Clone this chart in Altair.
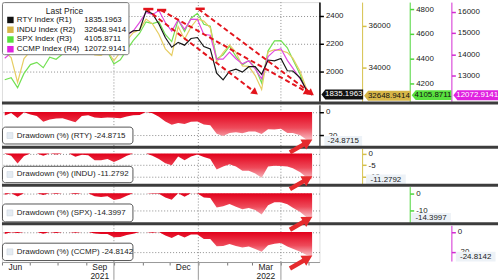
import altair as alt
import pandas as pd

# ---------------- data ----------------
dates = [
    "2021-06-04", "2021-06-11", "2021-06-18", "2021-06-25",
    "2021-07-02", "2021-07-09", "2021-07-16", "2021-07-23", "2021-07-30",
    "2021-08-06", "2021-08-13", "2021-08-20", "2021-08-27",
    "2021-09-03", "2021-09-10", "2021-09-17", "2021-09-24",
    "2021-10-01", "2021-10-08", "2021-10-15", "2021-10-22", "2021-10-29",
    "2021-11-05", "2021-11-12", "2021-11-19", "2021-11-26",
    "2021-12-03", "2021-12-10", "2021-12-17", "2021-12-24", "2021-12-31",
    "2022-01-07", "2022-01-14", "2022-01-21", "2022-01-28",
    "2022-02-04", "2022-02-11", "2022-02-18", "2022-02-25",
    "2022-03-04", "2022-03-11", "2022-03-18", "2022-03-25",
    "2022-04-01", "2022-04-08", "2022-04-14", "2022-04-22", "2022-04-29",
    "2022-05-05",
]
rty = [2286, 2338, 2240, 2361, 2311, 2279, 2163, 2209, 2226, 2236, 2192, 2149, 2277,
       2292, 2250, 2237, 2248, 2241, 2233, 2265, 2293, 2297, 2437, 2416, 2343, 2245,
       2175, 2210, 2190, 2238, 2245, 2180, 2163, 1988, 1940, 2003, 2017, 1996, 2035,
       2035, 1980, 2083, 2077, 2094, 2006, 2004, 1954, 1864, 1835.1963]
indu = [34756, 34480, 33290, 34433, 34786, 34870, 34687, 35061, 34935, 35209, 35515,
        35120, 35455, 35369, 34608, 34584, 34798, 34326, 34746, 35295, 35677, 35820,
        36328, 36100, 35602, 34899, 34580, 35971, 35365, 35950, 36338, 36231, 35912,
        34265, 34725, 35089, 34738, 34079, 34059, 33615, 32944, 34755, 34861, 34818,
        34721, 34451, 33811, 32977, 32648.9414]
spx = [4230, 4247, 4166, 4281, 4352, 4370, 4327, 4412, 4395, 4437, 4468, 4442, 4509,
       4535, 4459, 4433, 4455, 4357, 4391, 4471, 4545, 4605, 4697, 4682, 4698, 4595,
       4538, 4712, 4620, 4726, 4766, 4677, 4662, 4398, 4432, 4500, 4419, 4349, 4385,
       4329, 4204, 4463, 4543, 4546, 4488, 4393, 4272, 4132, 4105.8711]
ccmp = [13814, 14069, 14030, 14360, 14639, 14701, 14428, 14837, 14673, 14835, 14823,
        14715, 15129, 15364, 15115, 15044, 15048, 14567, 14580, 14897, 15090, 15498,
        15971, 15861, 16057, 15492, 15085, 15630, 15170, 15653, 15645, 14936, 14894,
        13768, 13771, 14098, 13791, 13548, 13694, 13313, 12844, 13894, 14169, 14261,
        13711, 13351, 12839, 12335, 12072.9141]
dd_rty = [-3.1, -0.9, -5.1, -0.3, -2.1, -3.4, -8.4, -6.4, -5.7, -5.3, -7.1, -8.9, -3.5,
          -2.9, -4.7, -5.2, -4.7, -5.0, -5.4, -4.0, -2.8, -2.7, 0.0, -1.1, -4.1, -8.1,
          -11.0, -9.5, -10.3, -8.4, -8.1, -10.7, -11.4, -18.6, -20.6, -18.0, -17.4,
          -18.3, -16.7, -16.7, -18.9, -14.7, -15.0, -14.3, -17.9, -18.0, -20.0, -23.7,
          -24.8715]
dd_indu = [-0.1, -0.9, -4.3, -1.0, 0.0, 0.0, -0.9, 0.0, -0.4, 0.0, 0.0, -1.4, -0.5,
           -0.7, -2.9, -2.9, -2.3, -3.6, -2.5, -0.9, 0.0, 0.0, 0.0, -0.9, -2.3, -4.2,
           -5.1, -1.3, -2.9, -1.3, -0.4, -1.5, -2.4, -6.9, -5.6, -4.6, -5.6, -7.4, -7.4,
           -8.7, -10.5, -5.6, -5.3, -5.4, -5.6, -6.4, -8.1, -10.4, -11.2792]
dd_spx = [-0.8, 0.0, -1.9, 0.0, 0.0, 0.0, -1.0, 0.0, -0.4, 0.0, 0.0, -0.6, 0.0, 0.0,
          -1.7, -2.2, -1.8, -3.9, -3.2, -1.4, 0.0, 0.0, 0.0, -0.3, -0.3, -2.5, -3.7, 0.0,
          -2.0, 0.0, -0.2, -2.5, -2.8, -8.3, -7.6, -6.2, -7.9, -9.3, -8.6, -9.7, -12.4,
          -7.0, -5.3, -5.2, -6.4, -8.4, -10.9, -13.9, -14.3997]
dd_ccmp = [-2.0, -0.2, -1.0, 0.0, 0.0, 0.0, -1.9, 0.0, -1.1, 0.0, -0.1, -0.8, 0.0, 0.0,
           -1.6, -2.1, -2.1, -5.2, -5.1, -3.0, -1.8, 0.0, 0.0, -0.7, 0.0, -3.5, -6.1,
           -2.7, -5.5, -2.5, -2.6, -7.0, -7.2, -14.3, -14.2, -12.2, -14.1, -15.6, -14.7,
           -17.1, -20.0, -13.5, -11.8, -11.2, -14.6, -16.9, -20.0, -23.2, -24.8142]

index_names = ["RTY Index", "INDU Index", "SPX Index", "CCMP Index"]
axis_refs = ["(R1)", "(R2)", "(R3)", "(R4)"]
last_price_labels = ["1835.1963", "32648.9414", "4105.8711", "12072.9141"]
dd_tickers = ["RTY", "INDU", "SPX", "CCMP"]
dd_last_labels = ["-24.8715", "-11.2792", "-14.3997", "-24.8142"]
quarter_starts = ["2021-10-01", "2022-01-01", "2022-04-01"]

# red dashed trend lines (in RTY units)
trend_start = ["2021-11-05", "2021-11-21", "2022-01-01"]
trend_end = ["2022-03-04", "2022-04-30", "2022-05-04"]
trend_v0 = [2450, 2443, 2450]
trend_v1 = [1850, 1850, 1843]
trend_angle = [37, 29, 37]
cap_start = ["2021-11-02", "2021-11-17", "2021-12-29"]
cap_end = ["2021-11-13", "2021-11-27", "2022-01-08"]
cap_v = [2450, 2443, 2452]
# big red arrows in drawdown panels
arrow_date = "2022-04-23"
arrow_dd = [-29.0, -12.6, -17.5, -30.3]

# ---------------- style / layout ----------------
FONT = "Liberation Sans"
FS = 8
W, H = 320, 262
XSCALE = alt.Scale(domain=[alt.DateTime(year=2021, month=6, date=1),
                           alt.DateTime(year=2022, month=5, date=13)], nice=False)
month_ticks = [alt.DateTime(year=2021, month=m, date=1) for m in range(6, 13)] + \
              [alt.DateTime(year=2022, month=m, date=1) for m in range(1, 6)]
XAX = alt.Axis(values=month_ticks, title=None, grid=False, tickSize=3, tickColor="#777",
               domainColor="#999", labelFont=FONT, labelFontSize=8.5, labelColor="#222",
               labelPadding=-2, labelOffset=13, labelFlush=False, labelOverlap=False,
               labelLineHeight=9,
               labelExpr="month(datum.value)==5 ? 'Jun' : month(datum.value)==8 ? ['Sep','2021'] : "
                         "month(datum.value)==11 ? 'Dec' : month(datum.value)==2 ? ['Mar','2022'] : ''")


def X(field):
    return alt.X(f"{field}:T", scale=XSCALE, axis=XAX)


def ysc(dom, rng):
    return alt.Scale(domain=dom, range=rng, nice=False, zero=False)


def yax(color, offset, values, grid=False, dw=1):
    return alt.Axis(orient="right", offset=offset, values=values, domainColor=color,
                    domainWidth=dw, tickColor=color, tickSize=4, tickWidth=1.5,
                    labelFont=FONT, labelFontSize=FS, labelColor="#222", labelPadding=2,
                    labelFlush=False, labelOverlap=False, labelExpr="'' + datum.value",
                    grid=grid, gridColor="#8c8c8c", gridDash=[1, 2], title=None)


def tag_path(w, h=10, tip=4):
    hy = h / w
    t = 2 * tip / w
    if tip == 0:
        return f"M-1,{-hy:.3f}L1,{-hy:.3f}L1,{hy:.3f}L-1,{hy:.3f}Z"
    return f"M-1,0L{-1 + t:.3f},{-hy:.3f}L1,{-hy:.3f}L1,{hy:.3f}L{-1 + t:.3f},{hy:.3f}Z"


ARROW = "M-1,-0.17L0.2,-0.17L0.2,-0.45L1,0L0.2,0.45L0.2,0.17L-1,0.17Z"
one = pd.DataFrame({"a": [0]})

df = pd.DataFrame({"date": dates, "rty": rty, "indu": indu, "spx": spx, "ccmp": ccmp,
                   "dd_rty": dd_rty, "dd_indu": dd_indu, "dd_spx": dd_spx, "dd_ccmp": dd_ccmp})

layers = []

# vertical grid lines
qdf = pd.DataFrame({"q": quarter_starts})
layers.append(alt.Chart(qdf).mark_rule(color="#8c8c8c", strokeDash=[1, 2], strokeWidth=1)
              .encode(x=X("q")))
layers.append(alt.Chart(qdf).mark_rule(color="#999", strokeWidth=1)
              .encode(x=X("q"), y=alt.value(H), y2=alt.value(H + 18)))

# top panel: price lines
top = {
    "rty": dict(dom=[1785.7, 2500], off=0, vals=[2000, 2200, 2400], line="#161616",
                axc="#000000", tag="#111111", txt="#ffffff", cx=343, w=42, grid=True),
    "indu": dict(dom=[32381, 37143], off=43, vals=[34000, 36000], line="#e6cd63",
                 axc="#d6c04a", tag="#d7b648", txt="#111111", cx=388.5, w=47, grid=False),
    "spx": dict(dom=[4056, 4856], off=91, vals=[4200, 4400, 4600, 4800], line="#72e052",
                axc="#4cd63a", tag="#58e03e", txt="#111111", cx=433, w=40, grid=False),
    "ccmp": dict(dom=[11787, 16453], off=133, vals=[13000, 14000, 15000, 16000],
                 line="#e04ae0", axc="#d22cd2", tag="#e021e0", txt="#ffffff", cx=477.5,
                 w=45, grid=False),
}
for key in ["spx", "indu", "ccmp", "rty"]:
    s = top[key]
    layers.append(alt.Chart(df).mark_line(color=s["line"], strokeWidth=1.2).encode(
        x=X("date"),
        y=alt.Y(f"{key}:Q", scale=ysc(s["dom"], [100, 0]),
                axis=yax(s["axc"], s["off"], s["vals"], grid=s["grid"],
                         dw=1.5 if key == "rty" else 1))))

# trend lines
tdf = pd.DataFrame({"s": trend_start, "e": trend_end, "v0": trend_v0, "v1": trend_v1,
                    "ang": trend_angle})
cdf = pd.DataFrame({"s": cap_start, "e": cap_end, "v": cap_v})
RSC = ysc(top["rty"]["dom"], [100, 0])
layers.append(alt.Chart(tdf).mark_rule(color="#e3141c", strokeDash=[5, 3], strokeWidth=2)
              .encode(x=X("s"), x2="e:T", y=alt.Y("v0:Q", scale=RSC, axis=None), y2="v1:Q"))
layers.append(alt.Chart(cdf).mark_rule(color="#e3141c", strokeWidth=2.5)
              .encode(x=X("s"), x2="e:T", y=alt.Y("v:Q", scale=RSC, axis=None)))
layers.append(alt.Chart(tdf).mark_point(shape="triangle-right", filled=True, size=60,
                                        opacity=1, color="#e3141c")
              .encode(x=X("e"), y=alt.Y("v1:Q", scale=RSC, axis=None),
                      angle=alt.Angle("ang:Q", scale=None)))

# legend box
ldf = pd.DataFrame({"row": [0, 1, 2, 3],
                    "name": [f"{n} {r}" for n, r in zip(index_names, axis_refs)],
                    "val": last_price_labels,
                    "col": ["#111111", "#d7b648", "#58e03e", "#e021e0"]})
LY = alt.Y("row:Q", scale=alt.Scale(domain=[0, 3], range=[18, 47.5]), axis=None)
layers.append(alt.Chart(one).mark_rect(fill="white", stroke="#777", strokeWidth=1,
                                       cornerRadius=2)
              .encode(x=alt.value(0.5), x2=alt.value(128), y=alt.value(0.5), y2=alt.value(53)))
layers.append(alt.Chart(one).mark_text(text="Last Price", font=FONT, fontSize=8.5,
                                       color="#222", align="center", baseline="middle")
              .encode(x=alt.value(63), y=alt.value(9)))
layers.append(alt.Chart(ldf).mark_square(size=42, opacity=1)
              .encode(x=alt.value(8.5), y=LY, color=alt.Color("col:N", scale=None)))
layers.append(alt.Chart(ldf).mark_text(font=FONT, fontSize=FS, color="#111", align="left",
                                       baseline="middle")
              .encode(x=alt.value(15), y=LY, text="name:N"))
layers.append(alt.Chart(ldf).mark_text(font=FONT, fontSize=FS, color="#111", align="left",
                                       baseline="middle")
              .encode(x=alt.value(83), y=LY, text="val:N"))

# price tags
for key, lab in zip(["rty", "indu", "spx", "ccmp"], last_price_labels):
    s = top[key]
    tdf1 = pd.DataFrame({"v": [df[key].iloc[-1]], "t": [lab]})
    yy = alt.Y("v:Q", scale=ysc(s["dom"], [100, 0]), axis=None)
    layers.append(alt.Chart(tdf1).mark_point(shape=tag_path(s["w"]), size=s["w"] ** 2,
                                             filled=True, opacity=1, color=s["tag"],
                                             strokeWidth=0)
                  .encode(x=alt.value(s["cx"]), y=yy))
    layers.append(alt.Chart(tdf1).mark_text(font=FONT, fontSize=FS, color=s["txt"],
                                            align="center", baseline="middle", dx=1.5)
                  .encode(x=alt.value(s["cx"]), y=yy, text="t:N"))

# drawdown panels
GRAD = alt.Gradient(gradient="linear",
                    stops=[alt.GradientStop(color="#e2001a", offset=0),
                           alt.GradientStop(color="#ee4a5a", offset=0.55),
                           alt.GradientStop(color="#f9c6cc", offset=1)],
                    x1=1, x2=1, y1=0, y2=1)
dd = {
    "dd_rty": dict(dom=[-28.64, 6.1], rng=[144.5, 103.5], off=0, vals=[0, -20],
                   axc="#000000", box=(126, 143), cx=344, w=38),
    "dd_indu": dict(dom=[-13.06, 2.24], rng=[183, 147.5], off=43, vals=[0, -5, -10],
                    axc="#d6c04a", box=(165.5, 182), cx=387, w=40),
    "dd_spx": dict(dom=[-16.94, 3.87], rng=[222, 186], off=91, vals=[0, -10],
                   axc="#4cd63a", box=(203.5, 221.5), cx=432.5, w=40),
    "dd_ccmp": dict(dom=[-29.3, 6.7], rng=[261, 225], off=133, vals=[0, -20],
                    axc="#d22cd2", box=(243, 260.5), cx=477.5, w=40),
}
for i, key in enumerate(["dd_rty", "dd_indu", "dd_spx", "dd_ccmp"]):
    s = dd[key]
    sc = ysc(s["dom"], s["rng"])
    layers.append(alt.Chart(df).mark_area(color=GRAD, interpolate="linear").encode(
        x=X("date"),
        y=alt.Y(f"{key}:Q", scale=sc, axis=yax(s["axc"], s["off"], s["vals"], grid=True)),
        y2=alt.datum(0)))
    y0, y1 = s["box"]
    layers.append(alt.Chart(one).mark_rect(fill="white", stroke="#555", strokeWidth=1,
                                           cornerRadius=3)
                  .encode(x=alt.value(0.5), x2=alt.value(132), y=alt.value(y0),
                          y2=alt.value(y1)))
    layers.append(alt.Chart(one).mark_rect(fill="#e4ebf2", stroke="#c8d2dc", strokeWidth=0.5)
                  .encode(x=alt.value(5), x2=alt.value(11), y=alt.value((y0 + y1) / 2 - 3),
                          y2=alt.value((y0 + y1) / 2 + 3)))
    layers.append(alt.Chart(one).mark_text(
        text=f"Drawdown (%) ({dd_tickers[i]}) {dd_last_labels[i]}", font=FONT, fontSize=FS,
        color="#222", align="left", baseline="middle")
        .encode(x=alt.value(15), y=alt.value((y0 + y1) / 2)))
    vdf = pd.DataFrame({"v": [df[key].iloc[-1]], "t": [dd_last_labels[i]]})
    yy = alt.Y("v:Q", scale=sc, axis=None)
    layers.append(alt.Chart(vdf).mark_point(shape=tag_path(s["w"], 10, 0), size=s["w"] ** 2,
                                            filled=True, opacity=1, color="#edf2f7",
                                            strokeWidth=0)
                  .encode(x=alt.value(s["cx"]), y=yy))
    layers.append(alt.Chart(vdf).mark_text(font=FONT, fontSize=FS, color="#222",
                                           align="center", baseline="middle")
                  .encode(x=alt.value(s["cx"]), y=yy, text="t:N"))

# separators
for sy in [101.7, 146.2, 184.5, 223.3]:
    layers.append(alt.Chart(one).mark_rule(color="#3c3c3c", strokeWidth=3)
                  .encode(x=alt.value(0), x2=alt.value(500), y=alt.value(sy)))

# big red arrows
for i, key in enumerate(["dd_rty", "dd_indu", "dd_spx", "dd_ccmp"]):
    s = dd[key]
    adf = pd.DataFrame({"d": [arrow_date], "v": [arrow_dd[i]]})
    layers.append(alt.Chart(adf).mark_point(shape=ARROW, size=676, filled=True, opacity=1,
                                            color="#e52a2d", angle=330, strokeWidth=0)
                  .encode(x=X("d"), y=alt.Y("v:Q", scale=ysc(s["dom"], s["rng"]), axis=None)))

chart = alt.layer(*layers).resolve_scale(y="independent").properties(
    width=W, height=H, padding={"left": 0, "top": 0, "right": 0, "bottom": 0},
    background="white"
).configure_view(stroke="#a0a0a0", strokeWidth=1).configure(font=FONT)

chart.save("out.html", embed_options={"renderer": "svg", "actions": False})
